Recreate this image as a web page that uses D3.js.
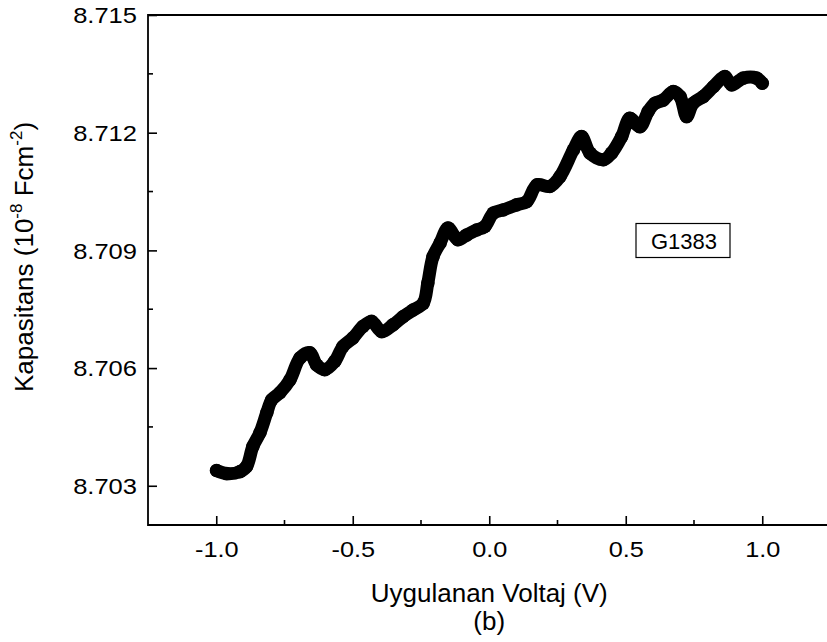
<!DOCTYPE html>
<html>
<head>
<meta charset="utf-8">
<script src="https://cdn.jsdelivr.net/npm/d3@7"></script>
<style>
  html, body { margin: 0; padding: 0; background: #fff; }
  svg { display: block; }
  text { font-family: "Liberation Sans", Arial, sans-serif; fill: #000; }
</style>
</head>
<body>
<svg id="chart" width="827" height="642"></svg>
<script>
// Data
const voltage = [-0.999, -0.962, -0.913, -0.889, -0.866, -0.840, -0.815, -0.797, -0.767, -0.730,
  -0.693, -0.657, -0.632, -0.602, -0.566, -0.536, -0.499, -0.463, -0.431, -0.394,
  -0.353, -0.316, -0.279, -0.242, -0.225, -0.206, -0.180, -0.151, -0.115, -0.083,
  -0.046, -0.016, 0.015, 0.051, 0.100, 0.137, 0.175, 0.222, 0.259, 0.308,
  0.338, 0.369, 0.418, 0.448, 0.485, 0.515, 0.552, 0.582, 0.607, 0.637,
  0.674, 0.699, 0.723, 0.747, 0.784, 0.821, 0.863, 0.888, 0.930, 0.979, 1.000];
const capacitance = [8.70339, 8.70331, 8.70336, 8.70349, 8.70400, 8.70435, 8.70486, 8.70519, 8.70537, 8.70570,
  8.70626, 8.70639, 8.70608, 8.70596, 8.70617, 8.70655, 8.70677, 8.70706, 8.70719, 8.70693,
  8.70710, 8.70731, 8.70748, 8.70765, 8.70817, 8.70884, 8.70919, 8.70957, 8.70927, 8.70939,
  8.70952, 8.70961, 8.70995, 8.71003, 8.71016, 8.71024, 8.71067, 8.71063, 8.71088, 8.71156,
  8.71190, 8.71148, 8.71131, 8.71148, 8.71190, 8.71237, 8.71215, 8.71254, 8.71275, 8.71283,
  8.71305, 8.71292, 8.71241, 8.71275, 8.71292, 8.71317, 8.71343, 8.71322, 8.71339, 8.71339, 8.71326];
const xTicks = [-1.0, -0.5, 0.0, 0.5, 1.0];
const xMinorTicks = [-0.75, -0.25, 0.25, 0.75];
const yTicks = [8.703, 8.706, 8.709, 8.712, 8.715];
const yMinorTicks = [8.7045, 8.7075, 8.7105, 8.7135];
const xDomain = [-1.25, 1.25];
const yDomain = [8.702, 8.715];
const xTitle = "Uygulanan Voltaj (V)";
const subTitle = "(b)";
const legendLabel = "G1383";

const svg = d3.select("#chart");
const pL = 148, pT = 15, pB = 525, pR = 830.5;

const x = d3.scaleLinear().domain(xDomain).range([pL, pR]);
const y = d3.scaleLinear().domain(yDomain).range([pB, pT]);

const data = voltage.map((v, i) => ({ v, c: capacitance[i] }));

// curve (thick dotted trace)
const line = d3.line().x(d => x(d.v)).y(d => y(d.c)).curve(d3.curveCatmullRom.alpha(0.5));
svg.append("path")
  .datum(data)
  .attr("d", line)
  .attr("fill", "none")
  .attr("stroke", "#000")
  .attr("stroke-width", 13)
  .attr("stroke-linecap", "round")
  .attr("stroke-linejoin", "round");
svg.append("g").selectAll("circle").data(data).join("circle")
  .attr("cx", d => x(d.v)).attr("cy", d => y(d.c)).attr("r", 6.8).attr("fill", "#000");

// x axis (ticks inward)
const xAxis = svg.append("g").attr("transform", `translate(0,${pB})`);
xAxis.call(d3.axisBottom(x).tickValues(xTicks).tickSize(-9).tickPadding(0).tickFormat(d => d.toFixed(1)));
xAxis.select(".domain").remove();
xAxis.selectAll(".tick line").attr("stroke-width", 1.6);
xAxis.selectAll(".tick text")
  .attr("y", 32).attr("dy", null).attr("x", 0)
  .style("font-size", "22px")
  .attr("transform", "scale(1.15,1)");
svg.append("g").selectAll("line").data(xMinorTicks).join("line")
  .attr("x1", d => x(d)).attr("x2", d => x(d))
  .attr("y1", pB).attr("y2", pB - 5)
  .attr("stroke", "#000").attr("stroke-width", 1.6);

// y axis (ticks inward)
const yAxis = svg.append("g").attr("transform", `translate(${pL},0)`);
yAxis.call(d3.axisLeft(y).tickValues(yTicks).tickSize(-9).tickPadding(0).tickFormat(d => d.toFixed(3)));
yAxis.select(".domain").remove();
yAxis.selectAll(".tick line").attr("stroke-width", 1.6);
yAxis.selectAll(".tick text")
  .attr("x", 0).attr("dy", "0.35em")
  .style("font-size", "22px")
  .attr("text-anchor", "end")
  .attr("transform", "translate(-11,0) scale(1.16,1)");
svg.append("g").selectAll("line").data(yMinorTicks).join("line")
  .attr("x1", pL).attr("x2", pL + 5)
  .attr("y1", d => y(d)).attr("y2", d => y(d))
  .attr("stroke", "#000").attr("stroke-width", 1.6);

// frame lines (left, bottom, top)
svg.append("path")
  .attr("d", `M${pR},${pT}H${pL}V${pB}H${pR}`)
  .attr("fill", "none").attr("stroke", "#000").attr("stroke-width", 1.8);

// axis titles
svg.append("text")
  .attr("x", x(0)).attr("y", 602)
  .attr("text-anchor", "middle")
  .style("font-size", "26px")
  .text(xTitle);
svg.append("text")
  .attr("x", x(0)).attr("y", 630)
  .attr("text-anchor", "middle")
  .style("font-size", "26px")
  .text(subTitle);

const yt = svg.append("text")
  .attr("transform", `translate(33,257) rotate(-90)`)
  .attr("text-anchor", "middle")
  .style("font-size", "26px");
yt.append("tspan").text("Kapasitans (10");
yt.append("tspan").attr("dy", -11).style("font-size", "17px").text("-8");
yt.append("tspan").attr("dy", 11).text("  Fcm");
yt.append("tspan").attr("dy", -11).style("font-size", "17px").text("-2");
yt.append("tspan").attr("dy", 11).text(")");

// legend box
const lg = svg.append("g");
lg.append("rect").attr("x", 636).attr("y", 223.5).attr("width", 94).attr("height", 34)
  .attr("fill", "#fff").attr("stroke", "#000").attr("stroke-width", 1.2);
lg.append("text").attr("x", 684).attr("y", 249).attr("text-anchor", "middle")
  .style("font-size", "22px").text(legendLabel);
</script>
</body>
</html>
